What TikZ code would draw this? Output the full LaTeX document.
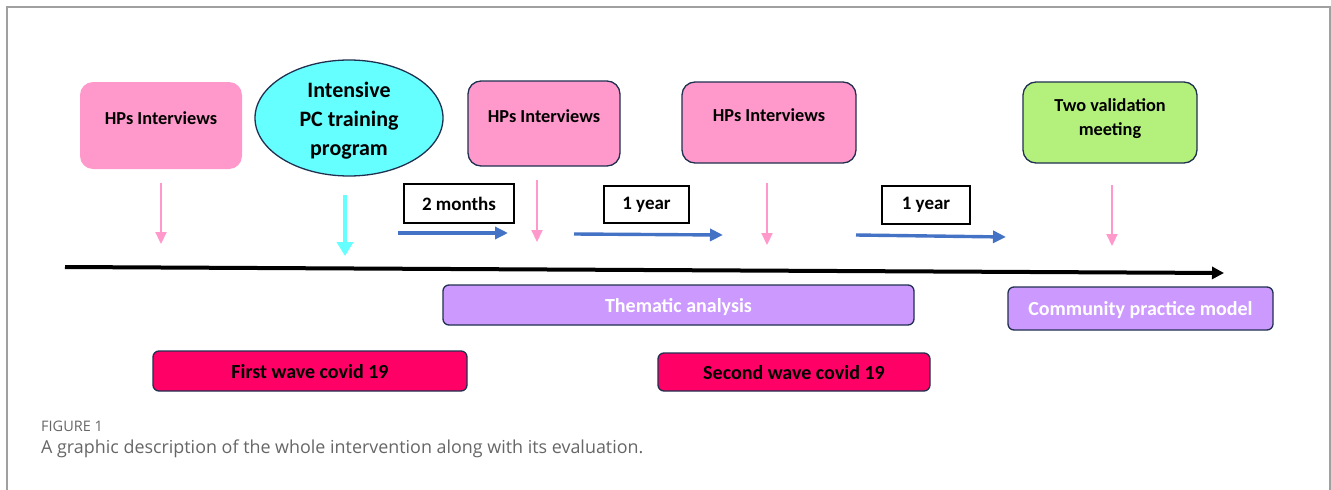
\documentclass[tikz,border=0pt]{standalone}
\usepackage{fontspec}
\setmainfont{Carlito}
\newfontfamily\capfont{Open Sans}
\usetikzlibrary{arrows.meta,shapes.geometric}
\definecolor{hppink}{HTML}{FF99CC}
\definecolor{trcyan}{HTML}{66FFFF}
\definecolor{edgenavy}{HTML}{1F3050}
\definecolor{valgreen}{HTML}{B4F07C}
\definecolor{lilac}{HTML}{CC99FF}
\definecolor{wavered}{HTML}{FF0066}
\definecolor{stepblue}{HTML}{4472C4}
\definecolor{framegray}{HTML}{A0A0A0}
\definecolor{capgray}{HTML}{666666}
\tikzset{
  event/.style={rounded corners=13pt, fill=hppink, inner sep=0pt},
  eventtext/.style={font=\bfseries\fontsize{18.3}{24}\selectfont, align=center},
  framed/.style={draw=edgenavy, line width=1.3pt},
  gapbox/.style={draw=black, line width=1.2pt, fill=white, font=\bfseries\fontsize{19}{22}\selectfont,
    inner sep=0pt},
  bar/.style={draw=edgenavy, line width=1.3pt, rounded corners=6pt, inner sep=0pt, text depth=0pt,
    font=\bfseries\fontsize{20}{24}\selectfont},
  pinkdown/.style={draw=hppink, line width=2.2pt, -{Triangle[length=12pt,width=11pt]}},
  bluegap/.style={draw=stepblue, line width=3.4pt, -{Triangle[length=13pt,width=12pt]}},
}
\begin{document}
\begin{tikzpicture}[x=1pt,y=-1pt]
\useasboundingbox (0,0) rectangle (1331,490);
% open frame
\draw[framegray, line width=1.3pt] (7,490) -- (7,7) -- (1330,7) -- (1330,490);

% events above the timeline
\node[event, minimum width=162pt, minimum height=87pt] (hp1) at (161,125.5) {};
\node[eventtext] (hp1t) at (161,118) {HPs Interviews};

\node[ellipse, draw=edgenavy, line width=1.3pt, fill=trcyan, minimum width=188pt, minimum height=116pt,
  inner sep=0pt] (train) at (349,118) {};
\node[align=center, font=\bfseries\fontsize{22}{29}\selectfont] (traint) at (349,120.5)
  {Intensive\\PC training\\program};

\node[event, framed, minimum width=152pt, minimum height=85pt] (hp2) at (544,123.5) {};
\node[eventtext] (hp2t) at (544,116) {HPs Interviews};

\node[event, framed, minimum width=174pt, minimum height=81pt] (hp3) at (769,122.5) {};
\node[eventtext] (hp3t) at (769,115) {HPs Interviews};

\node[event, framed, fill=valgreen, minimum width=174pt, minimum height=81pt] (val) at (1110,122.5) {};
\node[eventtext] (valt) at (1110,118.5) {Two validation\\meeting};

% drop arrows onto the timeline
\coordinate (d1a) at (161,183); \coordinate (d1b) at (161,244);
\coordinate (d2a) at (345,195); \coordinate (d2b) at (345,256);
\coordinate (d3a) at (537,180); \coordinate (d3b) at (537,242);
\coordinate (d4a) at (767,183); \coordinate (d4b) at (767,245);
\coordinate (d5a) at (1112,185); \coordinate (d5b) at (1112,246);
\draw[pinkdown] (d1a) -- (d1b);
\draw[draw=trcyan, line width=4pt, -{Triangle[length=14pt,width=16pt]}] (d2a) -- (d2b);
\draw[pinkdown] (d3a) -- (d3b);
\draw[pinkdown] (d4a) -- (d4b);
\draw[pinkdown] (d5a) -- (d5b);

% intervals between the waves of interviews
\node[gapbox, minimum width=110pt, minimum height=39pt] (g1) at (459,203.5) {2 months};
\node[gapbox, minimum width=85pt, minimum height=37pt] (g2) at (646.5,204.5) {1 year};
\node[gapbox, minimum width=88pt, minimum height=38pt] (g3) at (926,205) {1 year};
\coordinate (b1a) at (398,233); \coordinate (b1b) at (508,233);
\coordinate (b2a) at (574,234); \coordinate (b2b) at (723,235);
\coordinate (b3a) at (856,235); \coordinate (b3b) at (1006,237);
\draw[bluegap] (b1a) -- (b1b);
\draw[bluegap] (b2a) -- (b2b);
\draw[bluegap] (b3a) -- (b3b);

% timeline
\coordinate (t0) at (65,267);
\coordinate (t1) at (1224,273);
\draw[black, line width=4pt, -{Triangle[length=12pt,width=12pt]}] (t0) -- (t1);

% analysis and outcome bars
\node[bar, fill=lilac, text=white, minimum width=471pt, minimum height=40pt] (them) at (678.5,305) {Thematic analysis};
\node[bar, fill=lilac, text=white, minimum width=265pt, minimum height=43pt] (comm) at (1140.5,308.5) {Community practice model};

% pandemic waves
\node[bar, fill=wavered, text=black, minimum width=314pt, minimum height=40pt] (w1) at (310,371) {First wave covid 19};
\node[bar, fill=wavered, text=black, minimum width=272pt, minimum height=38pt] (w2) at (794,372) {Second wave covid 19};

% caption
\node[anchor=west, text=capgray, font=\capfont\fontsize{14.5}{17}\selectfont, inner sep=0pt] (figno) at (41,426) {FIGURE 1};
\node[anchor=west, text=capgray, font=\capfont\fontsize{17.9}{21}\selectfont, inner sep=0pt] (cap) at (41,449)
  {A graphic description of the whole intervention along with its evaluation.};
\end{tikzpicture}
\end{document}
